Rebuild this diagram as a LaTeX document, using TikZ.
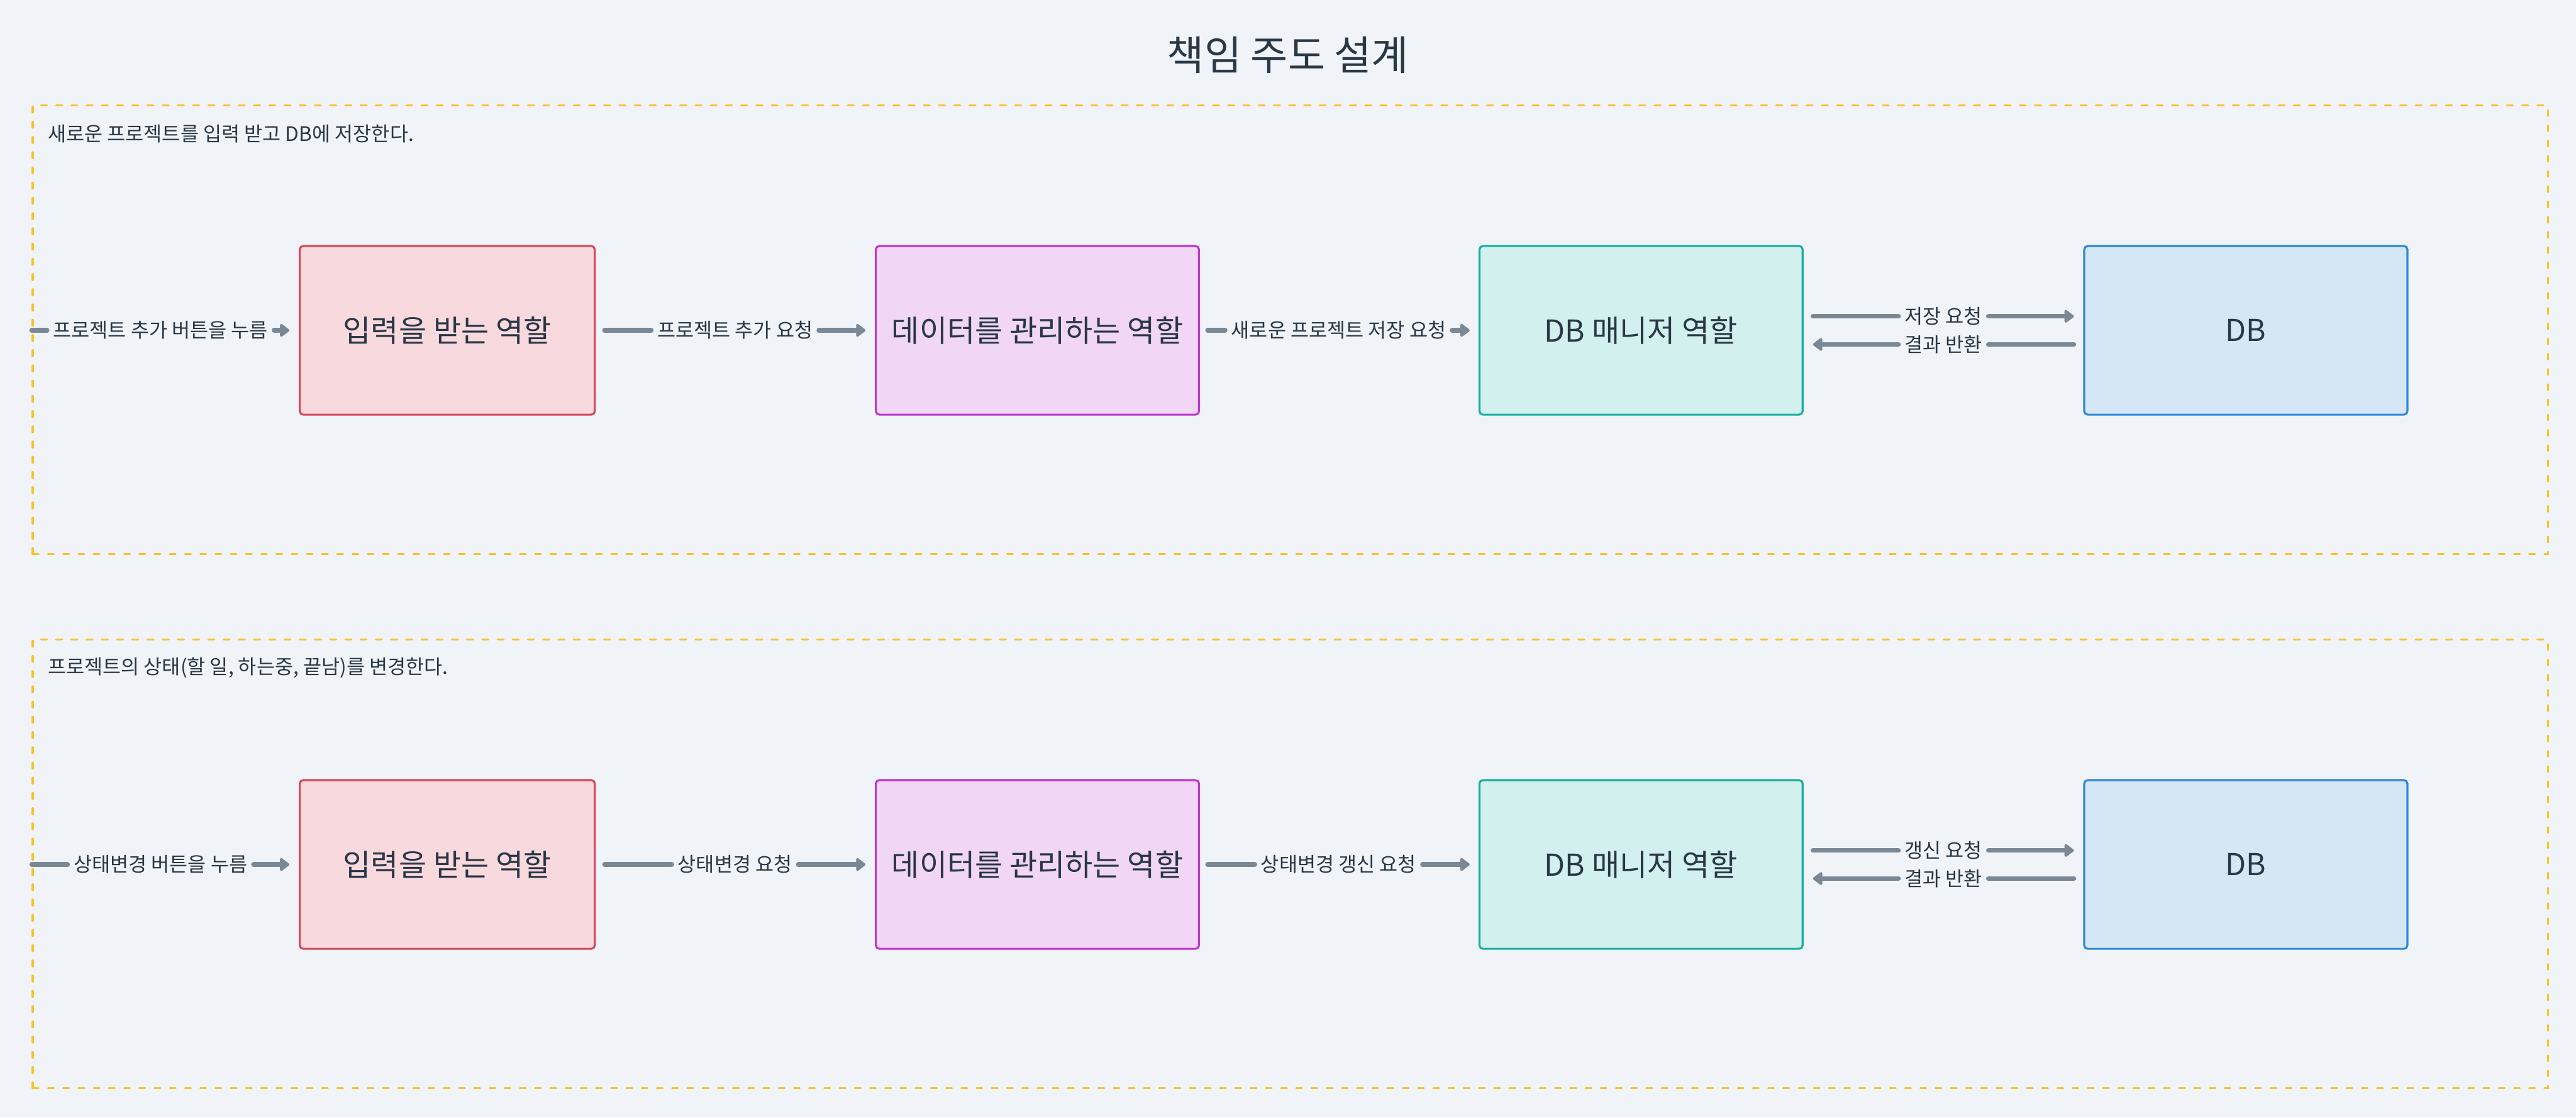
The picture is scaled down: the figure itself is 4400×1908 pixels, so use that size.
\documentclass[tikz,border=0pt]{standalone}
\usepackage{fontspec}
\setmainfont{Noto Sans CJK KR}
\usetikzlibrary{arrows.meta,calc}
\definecolor{bg}{HTML}{F0F4F8}
\definecolor{ink}{HTML}{2A3744}
\definecolor{dashy}{HTML}{F9C22A}
\definecolor{wire}{HTML}{7A8896}
\definecolor{pinkF}{HTML}{F8D9DE}
\definecolor{pinkD}{HTML}{D5485C}
\definecolor{purF}{HTML}{F1D6F5}
\definecolor{purD}{HTML}{BD35D0}
\definecolor{tealF}{HTML}{D1F0EE}
\definecolor{tealD}{HTML}{1CAE9E}
\definecolor{blueF}{HTML}{D5E6F5}
\definecolor{blueD}{HTML}{2E88D9}
\begin{document}
\begin{tikzpicture}[x=0.25pt,y=-0.25pt,
  frame/.style={draw=dashy, line width=0.9pt, dash pattern=on 2.5pt off 4pt, line cap=round,
    minimum width=1074pt, minimum height=191.5pt, inner sep=0pt},
  sectxt/.style={anchor=west, inner sep=0pt, text=ink, font=\fontsize{8.5}{10}\selectfont},
  role/.style={line width=0.85pt, rounded corners=1.5pt, minimum width=138pt, minimum height=72pt,
    text=ink, font=\fontsize{12.9}{15}\selectfont},
  roleA/.style={role, fill=pinkF, draw=pinkD, minimum width=126pt},
  roleB/.style={role, fill=purF, draw=purD},
  roleC/.style={role, fill=tealF, draw=tealD},
  roleD/.style={role, fill=blueF, draw=blueD},
  elabel/.style={text=ink, font=\fontsize{8.5}{10}\selectfont, inner xsep=2.4pt, inner ysep=1pt},
  conn/.style={draw=wire, line width=2pt, line cap=round},
  arr/.style={conn, -{Triangle[length=4.4pt,width=6.3pt,round]}}
]
\useasboundingbox[fill=bg] (0,0) rectangle (4400,1908);

\node[text=ink, font=\fontsize{17.3}{20}\selectfont] (title) at (2200,94) {책임 주도 설계};

% ---------- section 1 ----------
\node[frame] (F1) at (2204,563) {};
\node[sectxt] (T1) at (81,228) {새로운 프로젝트를 입력 받고 DB에 저장한다.};

\node[roleA] (A1) at (764,564) {입력을 받는 역할};
\node[roleB] (B1) at (1772,564) {데이터를 관리하는 역할};
\node[roleC] (C1) at (2803,564) {DB 매니저 역할};
\node[roleD] (D1) at (3836,564) {DB};

\coordinate (S1) at (F1.west |- A1.west);
\coordinate (E1) at ($(A1.west)+(-16,0)$);
\path (S1) -- (E1) node[elabel, midway] (L1) {프로젝트 추가 버튼을 누름};
\draw[conn] (S1) -- (L1.west);
\draw[arr] (L1.east) -- (E1);

\coordinate (S2) at ($(A1.east)+(15,0)$);
\coordinate (E2) at ($(B1.west)+(-16,0)$);
\path (S2) -- (E2) node[elabel, midway] (L2) {프로젝트 추가 요청};
\draw[conn] (S2) -- (L2.west);
\draw[arr] (L2.east) -- (E2);

\coordinate (S3) at ($(B1.east)+(13,0)$);
\coordinate (E3) at ($(C1.west)+(-15,0)$);
\path (S3) -- (E3) node[elabel, midway] (L3) {새로운 프로젝트 저장 요청};
\draw[conn] (S3) -- (L3.west);
\draw[arr] (L3.east) -- (E3);

\coordinate (S4) at ($(C1.east)+(16,-24)$);
\coordinate (E4) at ($(D1.west)+(-16,-24)$);
\path (S4) -- (E4) node[elabel, midway] (L4) {저장 요청};
\draw[conn] (S4) -- (L4.west);
\draw[arr] (L4.east) -- (E4);

\coordinate (S5) at ($(D1.west)+(-16,24)$);
\coordinate (E5) at ($(C1.east)+(16,24)$);
\path (S5) -- (E5) node[elabel, midway] (L5) {결과 반환};
\draw[conn] (S5) -- (L5.east);
\draw[arr] (L5.west) -- (E5);

% ---------- section 2 ----------
\node[frame] (F2) at (2204,1475) {};
\node[sectxt] (T2) at (81,1140) {프로젝트의 상태(할 일, 하는중, 끝남)를 변경한다.};

\node[roleA] (A2) at (764,1476) {입력을 받는 역할};
\node[roleB] (B2) at (1772,1476) {데이터를 관리하는 역할};
\node[roleC] (C2) at (2803,1476) {DB 매니저 역할};
\node[roleD] (D2) at (3836,1476) {DB};

\coordinate (S6) at (F2.west |- A2.west);
\coordinate (E6) at ($(A2.west)+(-16,0)$);
\path (S6) -- (E6) node[elabel, midway] (L6) {상태변경 버튼을 누름};
\draw[conn] (S6) -- (L6.west);
\draw[arr] (L6.east) -- (E6);

\coordinate (S7) at ($(A2.east)+(15,0)$);
\coordinate (E7) at ($(B2.west)+(-16,0)$);
\path (S7) -- (E7) node[elabel, midway] (L7) {상태변경 요청};
\draw[conn] (S7) -- (L7.west);
\draw[arr] (L7.east) -- (E7);

\coordinate (S8) at ($(B2.east)+(13,0)$);
\coordinate (E8) at ($(C2.west)+(-15,0)$);
\path (S8) -- (E8) node[elabel, midway] (L8) {상태변경 갱신 요청};
\draw[conn] (S8) -- (L8.west);
\draw[arr] (L8.east) -- (E8);

\coordinate (S9) at ($(C2.east)+(16,-24)$);
\coordinate (E9) at ($(D2.west)+(-16,-24)$);
\path (S9) -- (E9) node[elabel, midway] (L9) {갱신 요청};
\draw[conn] (S9) -- (L9.west);
\draw[arr] (L9.east) -- (E9);

\coordinate (S10) at ($(D2.west)+(-16,24)$);
\coordinate (E10) at ($(C2.east)+(16,24)$);
\path (S10) -- (E10) node[elabel, midway] (L10) {결과 반환};
\draw[conn] (S10) -- (L10.east);
\draw[arr] (L10.west) -- (E10);
\end{tikzpicture}
\end{document}
